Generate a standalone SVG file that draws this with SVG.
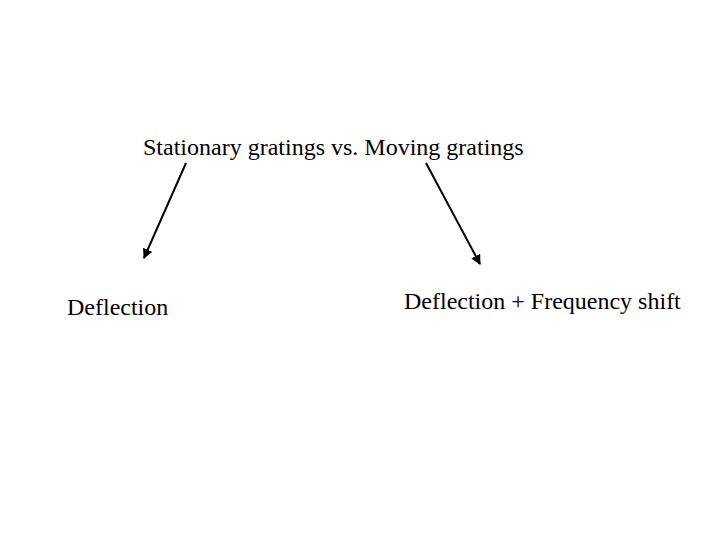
<svg xmlns="http://www.w3.org/2000/svg" width="720" height="540" viewBox="0 0 720 540">
<style>
text{font-family:"Liberation Serif","Times New Roman",serif;font-size:24px;fill:#000}
.c{stroke:#000;stroke-width:2;fill:none;marker-end:url(#ah)}
</style>
<defs>
<marker id="ah" viewBox="0 0 10 10" refX="9" refY="5" markerWidth="5" markerHeight="5" orient="auto" markerUnits="strokeWidth">
<path d="M0,0 L10,5 L0,10 z" fill="#000"/>
</marker>
</defs>
<rect width="720" height="540" fill="#fff"/>
<g id="title"><text x="143" y="155">Stationary gratings vs. Moving gratings</text></g>
<g id="left"><text x="67" y="315">Deflection</text></g>
<g id="right"><text x="404" y="309">Deflection + Frequency shift</text></g>
<g id="connectors">
<line class="c" x1="186" y1="163" x2="144" y2="258"/>
<line class="c" x1="426" y1="163" x2="480" y2="264"/>
</g>
</svg>
